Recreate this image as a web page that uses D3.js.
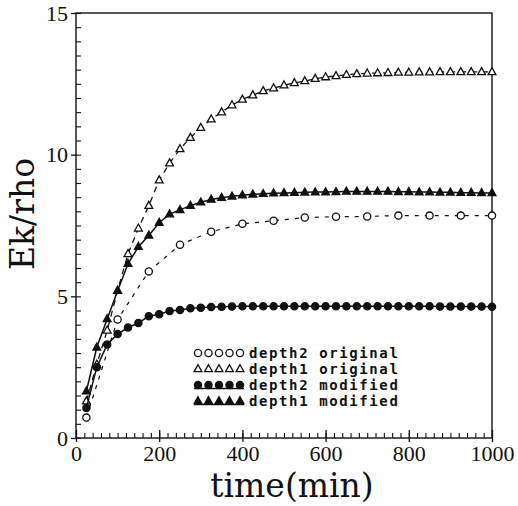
<!DOCTYPE html>
<html><head><meta charset="utf-8">
<script src="https://cdn.jsdelivr.net/npm/d3@7"></script>
<style>body{margin:0;background:#fff}svg{display:block}</style>
</head><body><svg id="c" width="518" height="506"></svg>
<script>
// ---- data ----
const tFine = [25,50,75,100,125,150,175,200,225,250,275,300,325,350,375,400,425,450,475,500,
               525,550,575,600,625,650,675,700,725,750,775,800,825,850,875,900,925,950,975,1000];
const tCoarse = [25,100,175,250,325,400,475,550,625,700,775,850,925,1000];
const depth1Original = [1.3,2.6,3.8,5.2,6.5,7.4,8.2,9.1,9.7,10.2,10.6,10.95,11.25,11.5,11.75,11.95,12.1,12.25,12.35,12.45,
                        12.53,12.6,12.68,12.74,12.78,12.82,12.85,12.87,12.88,12.89,12.9,12.9,12.91,12.91,12.92,12.92,12.92,12.92,12.92,12.92];
const depth1Modified = [1.65,3.2,4.2,5.2,6.15,6.75,7.15,7.6,7.9,8.05,8.2,8.32,8.42,8.48,8.53,8.57,8.6,8.62,8.64,8.65,
                        8.66,8.67,8.68,8.68,8.69,8.7,8.7,8.7,8.7,8.7,8.69,8.69,8.68,8.68,8.67,8.67,8.66,8.66,8.65,8.65];
const depth2Modified = [1.06,2.5,3.3,3.67,3.9,4.06,4.3,4.37,4.48,4.52,4.58,4.6,4.62,4.63,4.64,4.65,4.65,4.65,4.65,4.65,
                        4.65,4.65,4.65,4.65,4.65,4.65,4.65,4.65,4.65,4.65,4.65,4.65,4.65,4.65,4.64,4.64,4.64,4.64,4.64,4.63];
const depth2Original = [0.72,4.18,5.88,6.82,7.28,7.56,7.67,7.78,7.81,7.82,7.85,7.85,7.85,7.85];
const xTickLabels = [0,200,400,600,800,1000];
const yTickLabels = [0,5,10,15];
const legendLabels = ["depth2 original","depth1 original","depth2 modified","depth1 modified"];

// ---- setup ----
const svg = d3.select("#c");
const x = d3.scaleLinear().domain([0,1000]).range([76,492]);
const y = d3.scaleLinear().domain([0,15]).range([438,13]);
const ink = "#111";

// frame
svg.append("rect").attr("x",x(0)).attr("y",y(15)).attr("width",x(1000)-x(0)).attr("height",y(0)-y(15))
  .attr("fill","none").attr("stroke",ink).attr("stroke-width",1.4);

// x ticks (inward)
const gx = svg.append("g").attr("transform",`translate(0,${y(0)})`)
  .call(d3.axisBottom(x).tickValues(d3.range(0,1001,20)).tickSize(-5).tickFormat(""));
gx.select(".domain").remove();
gx.selectAll("line").attr("stroke",ink).attr("stroke-width",1.1);
const gx2 = svg.append("g").attr("transform",`translate(0,${y(0)})`)
  .call(d3.axisBottom(x).tickValues(xTickLabels).tickSize(4).tickPadding(3).tickFormat(d3.format("d")));
gx2.select(".domain").remove();
gx2.selectAll("line").attr("stroke",ink).attr("stroke-width",1.3);
gx2.selectAll("text").attr("font-family","Liberation Serif").attr("font-size",22).attr("fill",ink);
gx2.selectAll(".tick").append("line").attr("y1",0).attr("y2",-8).attr("stroke",ink).attr("stroke-width",1.3);

// y ticks (inward)
const gy = svg.append("g").attr("transform",`translate(${x(0)},0)`)
  .call(d3.axisLeft(y).tickValues(d3.range(0,15.01,0.5)).tickSize(-5).tickFormat(""));
gy.select(".domain").remove();
gy.selectAll("line").attr("stroke",ink).attr("stroke-width",1.1);
const gy2 = svg.append("g").attr("transform",`translate(${x(0)},0)`)
  .call(d3.axisLeft(y).tickValues(yTickLabels).tickSize(5).tickPadding(3).tickFormat(d3.format("d")));
gy2.select(".domain").remove();
gy2.selectAll("line").attr("stroke",ink).attr("stroke-width",1.3);
gy2.selectAll("text").attr("font-family","Liberation Serif").attr("font-size",22).attr("fill",ink);

// axis titles
svg.append("text").attr("x",292).attr("y",497).attr("text-anchor","middle")
  .attr("font-family","DejaVu Serif").attr("font-size",33).attr("fill",ink).text("time(min)");
svg.append("text").attr("transform","translate(34,214) rotate(-90)").attr("text-anchor","middle")
  .attr("font-family","DejaVu Serif").attr("font-size",33).attr("fill",ink).text("Ek/rho");

// markers
const triPath = "M0,-4.3L3.9,2.7L-3.9,2.7Z";
function drawMarkers(g, pts, type, filled){
  if(type==="circle"){
    g.selectAll("circle.m").data(pts).join("circle").attr("class","m")
      .attr("cx",d=>d[0]).attr("cy",d=>d[1]).attr("r",3.6)
      .attr("fill",filled?ink:"#fff").attr("stroke",ink).attr("stroke-width",1.3);
  } else {
    g.selectAll("path.m").data(pts).join("path").attr("class","m")
      .attr("d",triPath).attr("transform",d=>`translate(${d[0]},${d[1]})`)
      .attr("fill",filled?ink:"#fff").attr("stroke",ink).attr("stroke-width",1.3);
  }
}
const line = d3.line().x(d=>x(d[0])).y(d=>y(d[1]));
const series = [
  {t:tCoarse, v:depth2Original, type:"circle", filled:false, dash:"4,6", w:1.2},
  {t:tFine, v:depth1Original, type:"tri", filled:false, dash:"6,5", w:1.3},
  {t:tFine, v:depth2Modified, type:"circle", filled:true, dash:null, w:1.5},
  {t:tFine, v:depth1Modified, type:"tri", filled:true, dash:null, w:1.5}
];
series.forEach(s=>{
  const data = s.t.map((t,i)=>[t,s.v[i]]);
  const g = svg.append("g");
  g.append("path").attr("d",line(data)).attr("fill","none").attr("stroke",ink)
    .attr("stroke-width",s.w).attr("stroke-dasharray",s.dash);
  drawMarkers(g, data.map(d=>[x(d[0]),y(d[1])]), s.type, s.filled);
});

// legend
const legY = [353,369,385,401];
series.forEach((s,i)=>{
  const g = svg.append("g");
  const xs = [0,1,2,3,4].map(k=>198+k*10.5);
  if(s.filled){
    g.append("line").attr("x1",194).attr("x2",244).attr("y1",legY[i]+3.5).attr("y2",legY[i]+3.5)
      .attr("stroke",ink).attr("stroke-width",1.4);
  }
  drawMarkers(g, xs.map(xx=>[xx,legY[i]]), s.type, s.filled);
  g.append("text").attr("x",249).attr("y",legY[i]+5).attr("font-family","DejaVu Sans Mono")
    .attr("font-size",14).attr("font-weight","bold").attr("letter-spacing",1.6).attr("fill",ink).text(legendLabels[i]);
});
</script></body></html>
